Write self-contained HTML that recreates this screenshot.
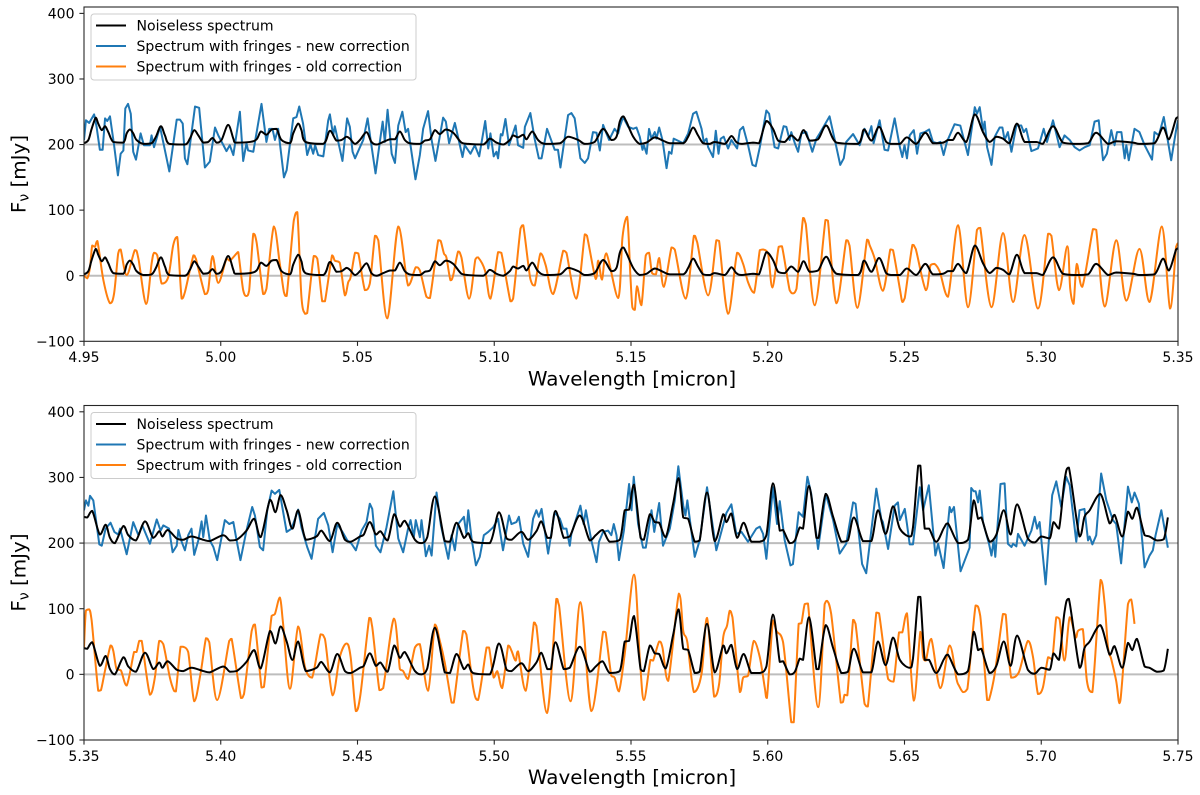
<!DOCTYPE html>
<html lang="en">
<head>
<meta charset="utf-8">
<title>Spectrum fringe correction comparison</title>
<style>
html,body{margin:0;padding:0;background:#fff;}
svg{display:block;font-family:"DejaVu Sans","Liberation Sans",sans-serif;}
</style>
</head>
<body>
<svg id="figure" width="1200" height="795" viewBox="0 0 1200 795" xmlns="http://www.w3.org/2000/svg">
<defs>
<clipPath id="clip-top"><rect x="84" y="7" width="1094" height="334"/></clipPath>
<clipPath id="clip-bottom"><rect x="84" y="405.5" width="1094" height="334.5"/></clipPath>
</defs>
<g id="panel-top">
<g id="marks-top" clip-path="url(#clip-top)"></g>
<g id="axes-top"></g>
<text x="632" y="385.5" text-anchor="middle" font-size="19.9" fill="#000">Wavelength [micron]</text>
<text transform="translate(25.5,174) rotate(-90)" text-anchor="middle" font-size="19.9" fill="#000">F<tspan font-size="14" dy="3">ν</tspan><tspan dy="-3"> [mJy]</tspan></text>
<g>
<rect x="91" y="14" width="325" height="66" rx="3" fill="#fff" fill-opacity="0.8" stroke="#ccc" stroke-width="1"/>
<line x1="96" x2="126" y1="25.5" y2="25.5" stroke="#000" stroke-width="2"/>
<text x="136.5" y="30.5" font-size="14.05" fill="#000">Noiseless spectrum</text>
<line x1="96" x2="126" y1="46" y2="46" stroke="#1f77b4" stroke-width="2"/>
<text x="136.5" y="51" font-size="14.05" fill="#000">Spectrum with fringes - new correction</text>
<line x1="96" x2="126" y1="66.5" y2="66.5" stroke="#ff7f0e" stroke-width="2"/>
<text x="136.5" y="71.5" font-size="14.05" fill="#000">Spectrum with fringes - old correction</text>
</g>
</g>
<g id="panel-bottom">
<g id="marks-bottom" clip-path="url(#clip-bottom)"></g>
<g id="axes-bottom"></g>
<text x="632" y="784" text-anchor="middle" font-size="19.9" fill="#000">Wavelength [micron]</text>
<text transform="translate(25.5,572.5) rotate(-90)" text-anchor="middle" font-size="19.9" fill="#000">F<tspan font-size="14" dy="3">ν</tspan><tspan dy="-3"> [mJy]</tspan></text>
<g>
<rect x="91" y="412.5" width="325" height="66" rx="3" fill="#fff" fill-opacity="0.8" stroke="#ccc" stroke-width="1"/>
<line x1="96" x2="126" y1="424" y2="424" stroke="#000" stroke-width="2"/>
<text x="136.5" y="429" font-size="14.05" fill="#000">Noiseless spectrum</text>
<line x1="96" x2="126" y1="444.5" y2="444.5" stroke="#1f77b4" stroke-width="2"/>
<text x="136.5" y="449.5" font-size="14.05" fill="#000">Spectrum with fringes - new correction</text>
<line x1="96" x2="126" y1="465" y2="465" stroke="#ff7f0e" stroke-width="2"/>
<text x="136.5" y="470" font-size="14.05" fill="#000">Spectrum with fringes - old correction</text>
</g>
</g>
</svg>
<script>
const topXTicks = ["4.95","5.00","5.05","5.10","5.15","5.20","5.25","5.30","5.35"];
const bottomXTicks = ["5.35","5.40","5.45","5.50","5.55","5.60","5.65","5.70","5.75"];
const yTicks = [400,300,200,100,0,-100];
const referenceLevels = [200,0];
const noiselessOffset = 200;

const topNoiselessWave = [4.9500,4.9516,4.9528,4.9543,4.9552,4.9565,4.9577,4.9589,4.9607,4.9644,4.9656,4.9668,4.9680,4.9692,4.9717,4.9747,4.9763,4.9781,4.9796,4.9812,4.9869,4.9887,4.9903,4.9918,4.9936,4.9954,4.9970,4.9985,5.0003,5.0027,5.0046,5.0054,5.0107,5.0131,5.0147,5.0167,5.0186,5.0204,5.0222,5.0253,5.0265,5.0283,5.0295,5.0310,5.0375,5.0399,5.0423,5.0442,5.0460,5.0472,5.0491,5.0509,5.0533,5.0551,5.0570,5.0594,5.0618,5.0637,5.0655,5.0673,5.0691,5.0728,5.0746,5.0765,5.0783,5.0801,5.0823,5.0850,5.0880,5.0905,5.0959,5.0984,5.1008,5.1033,5.1057,5.1069,5.1087,5.1106,5.1118,5.1139,5.1160,5.1185,5.1240,5.1270,5.1307,5.1331,5.1367,5.1398,5.1428,5.1447,5.1459,5.1471,5.1483,5.1508,5.1532,5.1557,5.1587,5.1617,5.1642,5.1691,5.1709,5.1727,5.1745,5.1764,5.1788,5.1806,5.1843,5.1867,5.1885,5.1904,5.1946,5.1968,5.1995,5.2019,5.2038,5.2062,5.2086,5.2111,5.2131,5.2153,5.2184,5.2214,5.2251,5.2330,5.2352,5.2379,5.2407,5.2433,5.2452,5.2483,5.2509,5.2543,5.2576,5.2604,5.2641,5.2659,5.2677,5.2696,5.2726,5.2757,5.2787,5.2811,5.2836,5.2860,5.2884,5.2911,5.2939,5.2982,5.3006,5.3043,5.3079,5.3128,5.3171,5.3201,5.3244,5.3274,5.3335,5.3359,5.3414,5.3445,5.3467,5.3493,5.3500];
const topNoiselessFlux = [2,7,24,41,32,22,28,19,4,3,17,23,17,7,1,2,12,28,14,1,0,9,22,14,3,4,10,3,7,30,9,3,4,8,20,15,23,24,7,2,17,32,22,4,1,21,6,7,12,9,1,7,19,4,0,4,8,8,20,7,2,1,6,8,22,16,23,18,3,1,0,9,3,0,7,14,11,15,8,20,7,1,2,12,7,1,4,24,7,12,35,43,35,12,1,3,11,6,2,2,12,26,14,2,1,4,1,13,4,1,3,2,36,24,6,4,14,6,22,6,8,29,3,1,23,6,27,4,1,1,11,1,18,2,3,7,7,18,4,46,19,4,12,9,2,32,4,4,1,28,3,1,2,18,1,5,3,1,2,26,8,40,42];

const topNewWave = [4.9500,4.9507,4.9519,4.9537,4.9546,4.9558,4.9568,4.9577,4.9585,4.9595,4.9610,4.9624,4.9634,4.9644,4.9651,4.9661,4.9671,4.9680,4.9690,4.9707,4.9719,4.9741,4.9747,4.9756,4.9778,4.9812,4.9839,4.9851,4.9861,4.9869,4.9878,4.9906,4.9921,4.9942,4.9960,4.9979,4.9991,5.0021,5.0033,5.0046,5.0070,5.0082,5.0094,5.0100,5.0119,5.0149,5.0167,5.0177,5.0189,5.0198,5.0210,5.0231,5.0241,5.0265,5.0277,5.0287,5.0301,5.0316,5.0328,5.0338,5.0345,5.0356,5.0375,5.0393,5.0399,5.0411,5.0417,5.0445,5.0462,5.0472,5.0482,5.0491,5.0509,5.0521,5.0537,5.0548,5.0566,5.0579,5.0592,5.0600,5.0610,5.0625,5.0637,5.0649,5.0664,5.0676,5.0685,5.0712,5.0728,5.0740,5.0758,5.0771,5.0785,5.0813,5.0823,5.0835,5.0856,5.0884,5.0892,5.0913,5.0929,5.0945,5.0967,5.0978,5.0986,5.0998,5.1008,5.1014,5.1024,5.1030,5.1041,5.1054,5.1078,5.1087,5.1106,5.1112,5.1132,5.1148,5.1163,5.1173,5.1193,5.1221,5.1233,5.1242,5.1270,5.1282,5.1294,5.1315,5.1331,5.1343,5.1361,5.1374,5.1386,5.1398,5.1410,5.1420,5.1440,5.1453,5.1459,5.1471,5.1490,5.1508,5.1520,5.1532,5.1542,5.1547,5.1557,5.1566,5.1575,5.1587,5.1593,5.1603,5.1615,5.1630,5.1639,5.1648,5.1656,5.1691,5.1709,5.1727,5.1739,5.1758,5.1766,5.1776,5.1782,5.1800,5.1810,5.1820,5.1828,5.1839,5.1855,5.1867,5.1888,5.1898,5.1910,5.1928,5.1944,5.1956,5.1971,5.1995,5.2005,5.2025,5.2038,5.2058,5.2068,5.2080,5.2086,5.2099,5.2111,5.2123,5.2141,5.2163,5.2178,5.2190,5.2226,5.2251,5.2265,5.2278,5.2287,5.2312,5.2336,5.2354,5.2367,5.2379,5.2387,5.2409,5.2427,5.2440,5.2464,5.2483,5.2492,5.2500,5.2509,5.2519,5.2534,5.2546,5.2558,5.2574,5.2590,5.2604,5.2619,5.2631,5.2643,5.2655,5.2683,5.2704,5.2732,5.2757,5.2765,5.2775,5.2787,5.2793,5.2802,5.2818,5.2830,5.2848,5.2858,5.2866,5.2878,5.2891,5.2909,5.2927,5.2936,5.2945,5.2964,5.2988,5.3009,5.3021,5.3043,5.3067,5.3085,5.3104,5.3122,5.3140,5.3159,5.3177,5.3195,5.3210,5.3226,5.3240,5.3256,5.3268,5.3277,5.3293,5.3305,5.3311,5.3320,5.3341,5.3359,5.3378,5.3405,5.3414,5.3430,5.3448,5.3475,5.3493,5.3500];
const topNewFlux = [207,237,233,246,227,192,192,240,236,243,199,153,186,191,255,262,247,189,177,217,199,199,214,196,227,159,238,238,232,179,170,258,256,165,174,226,214,190,199,184,250,175,202,191,189,262,204,224,224,207,224,150,161,240,242,258,232,184,200,186,199,184,182,237,246,214,228,175,240,227,189,179,196,207,240,207,156,196,235,204,253,186,172,229,250,219,224,147,184,224,251,207,175,241,235,202,233,181,199,186,199,182,236,194,217,182,189,179,216,214,239,199,229,199,195,227,248,208,179,179,224,192,192,165,245,248,240,179,172,179,219,218,191,230,217,207,224,217,227,242,227,224,226,212,192,199,186,224,209,219,209,226,207,164,189,186,209,202,217,247,250,224,204,209,196,181,221,186,209,212,194,207,194,222,227,199,169,167,196,252,247,196,194,228,227,207,219,202,189,217,219,189,209,217,243,196,169,179,204,216,199,224,212,228,202,237,192,191,240,196,181,199,179,214,222,186,217,219,223,204,202,204,184,204,231,229,184,257,247,257,222,235,196,169,212,226,226,207,219,189,229,229,219,224,190,194,224,204,237,196,214,207,196,191,196,199,235,237,176,186,222,199,219,219,179,199,176,224,219,199,177,219,214,242,176,222,237];

const topOldWave = [4.9500,4.9512,4.9522,4.9530,4.9540,4.9549,4.9571,4.9595,4.9610,4.9625,4.9634,4.9656,4.9686,4.9699,4.9727,4.9747,4.9756,4.9768,4.9784,4.9808,4.9826,4.9841,4.9857,4.9869,4.9900,4.9909,4.9942,4.9954,4.9970,4.9991,5.0021,5.0033,5.0058,5.0064,5.0082,5.0094,5.0104,5.0119,5.0131,5.0155,5.0167,5.0194,5.0216,5.0231,5.0241,5.0267,5.0280,5.0295,5.0308,5.0316,5.0340,5.0353,5.0371,5.0381,5.0407,5.0417,5.0435,5.0454,5.0466,5.0475,5.0491,5.0503,5.0527,5.0545,5.0564,5.0576,5.0609,5.0649,5.0685,5.0713,5.0728,5.0752,5.0765,5.0795,5.0804,5.0816,5.0825,5.0840,5.0850,5.0868,5.0880,5.0908,5.0931,5.0941,5.0966,5.0986,5.1014,5.1026,5.1059,5.1069,5.1096,5.1106,5.1132,5.1148,5.1169,5.1188,5.1215,5.1252,5.1264,5.1300,5.1331,5.1339,5.1371,5.1380,5.1394,5.1410,5.1453,5.1469,5.1486,5.1498,5.1505,5.1514,5.1522,5.1538,5.1554,5.1566,5.1577,5.1591,5.1603,5.1620,5.1648,5.1660,5.1700,5.1730,5.1742,5.1782,5.1812,5.1822,5.1855,5.1888,5.1910,5.1928,5.1950,5.1971,5.1983,5.2001,5.2017,5.2040,5.2052,5.2080,5.2092,5.2105,5.2129,5.2139,5.2172,5.2211,5.2220,5.2251,5.2287,5.2299,5.2328,5.2363,5.2373,5.2391,5.2421,5.2448,5.2458,5.2483,5.2492,5.2501,5.2529,5.2541,5.2578,5.2595,5.2610,5.2629,5.2659,5.2696,5.2732,5.2765,5.2777,5.2818,5.2860,5.2897,5.2939,5.2988,5.3025,5.3037,5.3065,5.3095,5.3106,5.3118,5.3130,5.3150,5.3189,5.3201,5.3232,5.3274,5.3311,5.3359,5.3396,5.3441,5.3471,5.3493,5.3500];
const topOldFlux = [1,-4,13,46,44,53,-7,-42,-27,34,40,1,39,26,-43,18,35,31,-12,-2,46,59,-35,-25,31,26,-28,-22,30,-11,26,23,34,36,-22,-31,-22,64,51,-28,-20,75,18,-25,-31,84,97,-32,-58,-57,30,26,-39,-39,31,23,20,-30,-10,-2,35,34,-22,-12,61,54,-65,75,-15,13,8,-32,-34,54,53,34,28,-7,1,37,28,-35,25,28,8,-35,36,35,-39,-35,72,77,-5,-15,34,16,-28,38,35,-35,63,61,-5,23,-6,34,-34,59,90,-2,-48,-52,-16,-45,31,35,4,2,27,-17,43,40,-35,61,51,-30,54,53,-58,35,18,-10,-26,39,40,34,-18,44,45,-22,-27,-20,88,79,-45,85,84,-42,54,46,-49,55,46,26,-23,40,39,-20,-40,-34,47,41,-22,16,18,6,-32,77,-48,70,73,-48,65,-40,62,-50,64,61,-22,45,-20,-43,18,-17,71,70,-47,54,-38,41,-40,75,-50,44,50];

const bottomNoiselessWave = [5.3500,5.3512,5.3530,5.3558,5.3579,5.3595,5.3613,5.3644,5.3662,5.3690,5.3723,5.3753,5.3775,5.3787,5.3806,5.3839,5.3863,5.3893,5.3936,5.3960,5.4009,5.4033,5.4058,5.4094,5.4122,5.4146,5.4180,5.4200,5.4219,5.4241,5.4262,5.4283,5.4311,5.4350,5.4368,5.4399,5.4426,5.4454,5.4475,5.4509,5.4523,5.4545,5.4567,5.4584,5.4610,5.4634,5.4655,5.4673,5.4710,5.4734,5.4755,5.4783,5.4819,5.4838,5.4862,5.4889,5.4905,5.4923,5.4984,5.5017,5.5045,5.5063,5.5099,5.5124,5.5154,5.5172,5.5194,5.5207,5.5224,5.5254,5.5276,5.5313,5.5349,5.5371,5.5396,5.5422,5.5459,5.5477,5.5493,5.5511,5.5535,5.5547,5.5569,5.5587,5.5603,5.5627,5.5654,5.5674,5.5691,5.5709,5.5733,5.5751,5.5778,5.5806,5.5837,5.5849,5.5867,5.5888,5.5912,5.5940,5.5971,5.5995,5.6019,5.6044,5.6056,5.6080,5.6099,5.6117,5.6129,5.6151,5.6178,5.6186,5.6212,5.6239,5.6269,5.6293,5.6315,5.6348,5.6379,5.6403,5.6431,5.6458,5.6483,5.6519,5.6531,5.6550,5.6558,5.6574,5.6590,5.6616,5.6644,5.6659,5.6696,5.6732,5.6753,5.6769,5.6781,5.6811,5.6836,5.6863,5.6888,5.6912,5.6951,5.6976,5.7000,5.7031,5.7045,5.7065,5.7085,5.7101,5.7140,5.7158,5.7177,5.7216,5.7250,5.7268,5.7296,5.7317,5.7333,5.7350,5.7378,5.7396,5.7423,5.7448,5.7463];
const bottomNoiselessFlux = [40,39,49,13,28,8,0,26,12,4,33,8,18,10,20,7,5,10,5,3,12,4,5,19,37,9,66,47,73,50,22,50,5,10,19,3,31,5,2,10,13,32,13,18,4,44,25,34,5,0,9,71,3,2,31,8,15,2,0,47,7,5,17,5,18,33,8,8,49,8,10,42,4,12,20,2,5,50,51,89,8,5,44,32,31,9,60,99,39,37,2,4,77,3,44,32,45,8,31,2,2,12,91,19,20,0,4,24,22,87,8,8,75,40,2,4,39,3,3,50,14,56,22,10,24,118,118,22,22,2,23,30,0,5,65,37,39,2,13,50,13,59,7,1,10,7,32,22,95,115,10,40,50,75,30,43,10,48,37,54,12,10,4,6,39];

const bottomNewWave = [5.3500,5.3507,5.3516,5.3522,5.3534,5.3556,5.3565,5.3579,5.3597,5.3611,5.3625,5.3632,5.3656,5.3680,5.3699,5.3713,5.3741,5.3766,5.3780,5.3790,5.3811,5.3824,5.3839,5.3845,5.3857,5.3869,5.3881,5.3893,5.3903,5.3918,5.3930,5.3936,5.3946,5.3960,5.3973,5.3987,5.4015,5.4031,5.4046,5.4058,5.4072,5.4094,5.4115,5.4125,5.4143,5.4155,5.4170,5.4186,5.4198,5.4214,5.4222,5.4241,5.4259,5.4283,5.4295,5.4316,5.4332,5.4356,5.4377,5.4393,5.4409,5.4426,5.4445,5.4463,5.4478,5.4494,5.4515,5.4533,5.4545,5.4554,5.4567,5.4584,5.4606,5.4631,5.4649,5.4667,5.4685,5.4694,5.4706,5.4713,5.4728,5.4734,5.4750,5.4762,5.4771,5.4789,5.4805,5.4832,5.4844,5.4856,5.4868,5.4889,5.4898,5.4905,5.4917,5.4933,5.4947,5.4962,5.4978,5.4996,5.5014,5.5032,5.5054,5.5063,5.5081,5.5090,5.5106,5.5124,5.5142,5.5154,5.5163,5.5173,5.5197,5.5221,5.5240,5.5252,5.5264,5.5276,5.5282,5.5315,5.5327,5.5335,5.5355,5.5374,5.5383,5.5398,5.5416,5.5428,5.5437,5.5447,5.5456,5.5474,5.5493,5.5502,5.5510,5.5526,5.5544,5.5554,5.5575,5.5585,5.5603,5.5617,5.5642,5.5660,5.5673,5.5691,5.5699,5.5706,5.5733,5.5751,5.5778,5.5812,5.5849,5.5867,5.5885,5.5904,5.5928,5.5958,5.5971,5.5983,5.5995,5.6019,5.6034,5.6044,5.6062,5.6083,5.6092,5.6113,5.6129,5.6145,5.6159,5.6184,5.6212,5.6239,5.6263,5.6287,5.6312,5.6321,5.6345,5.6360,5.6397,5.6415,5.6421,5.6440,5.6464,5.6476,5.6483,5.6501,5.6509,5.6519,5.6531,5.6556,5.6568,5.6589,5.6613,5.6623,5.6643,5.6665,5.6671,5.6681,5.6705,5.6738,5.6744,5.6753,5.6760,5.6769,5.6775,5.6787,5.6809,5.6818,5.6826,5.6832,5.6851,5.6866,5.6878,5.6891,5.6897,5.6909,5.6915,5.6939,5.6951,5.6964,5.6976,5.6985,5.6994,5.7016,5.7040,5.7055,5.7073,5.7091,5.7104,5.7128,5.7140,5.7158,5.7171,5.7177,5.7187,5.7201,5.7219,5.7238,5.7262,5.7274,5.7292,5.7317,5.7331,5.7341,5.7357,5.7378,5.7396,5.7408,5.7418,5.7439,5.7463];
const bottomNewFlux = [250,265,257,272,265,198,196,222,231,217,213,222,183,232,212,227,199,236,219,227,222,186,196,220,202,189,212,222,182,204,233,209,242,204,194,174,235,229,232,204,174,219,255,242,194,189,250,280,275,281,262,217,222,251,224,194,176,237,246,227,186,229,217,204,199,189,219,232,260,252,196,186,224,279,207,186,222,235,209,235,209,235,180,196,181,277,227,176,212,189,229,240,214,250,207,166,179,212,217,224,237,189,242,229,232,240,199,179,237,250,240,252,184,247,237,222,222,196,214,257,229,250,204,171,202,217,219,212,229,212,174,219,290,250,301,229,193,193,250,217,261,196,222,265,317,257,242,265,179,204,285,189,246,259,214,217,202,222,225,214,176,285,229,264,204,166,168,247,240,301,275,191,275,235,184,199,262,260,168,154,283,237,232,191,257,262,235,252,229,198,198,285,250,288,181,199,162,255,247,255,157,193,284,279,279,262,280,232,199,181,204,179,290,291,199,194,199,195,214,196,207,219,240,222,232,137,273,294,255,301,288,202,250,252,204,210,198,212,306,265,235,229,169,286,262,277,260,163,181,189,212,250,193];

const bottomOldWave = [5.3500,5.3507,5.3519,5.3528,5.3552,5.3562,5.3577,5.3597,5.3607,5.3619,5.3635,5.3656,5.3683,5.3692,5.3702,5.3711,5.3741,5.3759,5.3775,5.3790,5.3814,5.3829,5.3836,5.3853,5.3863,5.3881,5.3903,5.3926,5.3946,5.3958,5.3987,5.4031,5.4040,5.4074,5.4085,5.4113,5.4125,5.4149,5.4158,5.4186,5.4198,5.4216,5.4228,5.4253,5.4283,5.4308,5.4334,5.4365,5.4381,5.4409,5.4435,5.4460,5.4475,5.4494,5.4511,5.4543,5.4554,5.4580,5.4594,5.4633,5.4655,5.4667,5.4685,5.4710,5.4728,5.4758,5.4783,5.4801,5.4819,5.4844,5.4852,5.4886,5.4898,5.4923,5.4941,5.4972,5.4981,5.4998,5.5011,5.5029,5.5051,5.5063,5.5078,5.5087,5.5115,5.5145,5.5154,5.5193,5.5227,5.5237,5.5279,5.5315,5.5355,5.5398,5.5407,5.5428,5.5440,5.5456,5.5477,5.5511,5.5532,5.5547,5.5571,5.5581,5.5603,5.5615,5.5636,5.5675,5.5691,5.5706,5.5730,5.5758,5.5778,5.5804,5.5822,5.5837,5.5851,5.5861,5.5871,5.5898,5.5910,5.5928,5.5949,5.5971,5.5989,5.5997,5.6019,5.6032,5.6056,5.6086,5.6095,5.6113,5.6123,5.6135,5.6147,5.6184,5.6208,5.6217,5.6232,5.6267,5.6275,5.6281,5.6291,5.6312,5.6321,5.6354,5.6366,5.6397,5.6407,5.6440,5.6460,5.6480,5.6492,5.6509,5.6534,5.6558,5.6568,5.6578,5.6598,5.6631,5.6665,5.6690,5.6699,5.6714,5.6730,5.6760,5.6777,5.6802,5.6809,5.6830,5.6860,5.6870,5.6890,5.6918,5.6951,5.6970,5.6988,5.7006,5.7025,5.7040,5.7055,5.7067,5.7085,5.7104,5.7126,5.7134,5.7152,5.7167,5.7187,5.7217,5.7232,5.7244,5.7256,5.7274,5.7286,5.7296,5.7317,5.7329,5.7341];
const bottomOldFlux = [41,97,99,82,-25,-24,6,44,36,8,6,-17,34,34,51,51,-31,-5,51,46,-5,-25,-26,42,42,34,-41,1,55,49,-39,51,54,-36,-30,66,76,-20,-19,89,92,117,77,-22,73,11,-5,61,54,-32,26,47,26,-56,-30,86,72,-24,-21,85,8,5,-7,41,46,-25,76,51,18,-43,-43,66,61,-20,-39,41,41,-5,5,-21,44,36,21,35,-25,79,74,-59,115,105,-41,110,-56,65,64,-2,-5,-26,31,152,26,-39,22,21,50,41,-10,123,66,49,-27,1,86,-34,-15,56,74,97,87,-27,-5,-2,51,26,-20,-36,82,66,49,-73,-73,77,78,107,108,-50,107,112,92,-43,-42,-31,-32,83,77,-45,-49,94,93,-7,-11,64,64,93,-40,65,26,21,54,-21,44,-7,-17,-27,-22,105,89,-39,-39,1,92,91,-5,3,51,26,-30,-20,26,23,87,84,21,87,56,66,69,-10,-27,144,107,41,23,-10,-44,-10,107,114,77];

const NS = 'http://www.w3.org/2000/svg';
const xLeft = 84, xRight = 1178;

function makeY(y400, yMinus100) {
  return function (v) { return yMinus100 + (v + 100) * (y400 - yMinus100) / 500; };
}
function makeX(start, end) {
  return function (w) { return xLeft + (w - start) * (xRight - xLeft) / (end - start); };
}
function clamp(v, a, b) {
  return Math.max(Math.min(a, b), Math.min(Math.max(a, b), v));
}
function pathFor(waves, flux, offset, xScale, yScale, smooth) {
  const n = Math.min(waves.length, flux.length);
  const xs = [], ys = [];
  for (let i = 0; i < n; i++) {
    xs.push(xScale(waves[i]));
    ys.push(yScale(flux[i] + offset));
  }
  let d = 'M' + xs[0].toFixed(2) + ' ' + ys[0].toFixed(2);
  for (let i = 0; i < n - 1; i++) {
    if (!smooth) {
      d += 'L' + xs[i + 1].toFixed(2) + ' ' + ys[i + 1].toFixed(2);
      continue;
    }
    const p = Math.max(i - 1, 0), q = Math.min(i + 2, n - 1);
    const c1x = clamp(xs[i] + (xs[i + 1] - xs[p]) / 6, xs[i], xs[i + 1]);
    const c1y = clamp(ys[i] + (ys[i + 1] - ys[p]) / 6, ys[i], ys[i + 1]);
    const c2x = clamp(xs[i + 1] - (xs[q] - xs[i]) / 6, xs[i], xs[i + 1]);
    const c2y = clamp(ys[i + 1] - (ys[q] - ys[i]) / 6, ys[i], ys[i + 1]);
    d += 'C' + c1x.toFixed(2) + ' ' + c1y.toFixed(2) + ' ' + c2x.toFixed(2) + ' ' + c2y.toFixed(2) + ' ' + xs[i + 1].toFixed(2) + ' ' + ys[i + 1].toFixed(2);
  }
  return d;
}
function addSeries(parent, waves, flux, offset, color, xScale, yScale, name, smooth) {
  const el = document.createElementNS(NS, 'path');
  el.setAttribute('d', pathFor(waves, flux, offset, xScale, yScale, smooth));
  el.setAttribute('fill', 'none');
  el.setAttribute('stroke', color);
  el.setAttribute('stroke-width', '2');
  el.setAttribute('stroke-linejoin', 'round');
  
  
  parent.appendChild(el);
}
function drawPanel(cfg) {
  const marks = document.getElementById(cfg.marksId);
  const axes = document.getElementById(cfg.axesId);
  const x = makeX(cfg.xStart, cfg.xEnd);
  const y = makeY(cfg.y400, cfg.yBottom);

  referenceLevels.forEach(function (level) {
    const ref = document.createElementNS(NS, 'line');
    ref.setAttribute('x1', xLeft);
    ref.setAttribute('x2', xRight);
    ref.setAttribute('y1', y(level));
    ref.setAttribute('y2', y(level));
    ref.setAttribute('stroke', '#bdbdbd');
    ref.setAttribute('stroke-width', '2');
    
    
    marks.appendChild(ref);
  });

  addSeries(marks, cfg.newWave, cfg.newFlux, 0, '#1f77b4', x, y, cfg.prefix + '-new-correction-line', false);
  addSeries(marks, cfg.oldWave, cfg.oldFlux, 0, '#ff7f0e', x, y, cfg.prefix + '-old-correction-line', true);
  addSeries(marks, cfg.cleanWave, cfg.cleanFlux, noiselessOffset, '#000000', x, y, cfg.prefix + '-noiseless-offset-line', true);
  addSeries(marks, cfg.cleanWave, cfg.cleanFlux, 0, '#000000', x, y, cfg.prefix + '-noiseless-line', true);

  const frame = document.createElementNS(NS, 'rect');
  frame.setAttribute('x', xLeft);
  frame.setAttribute('y', cfg.yTop);
  frame.setAttribute('width', xRight - xLeft);
  frame.setAttribute('height', cfg.yBottom - cfg.yTop);
  frame.setAttribute('fill', 'none');
  frame.setAttribute('stroke', '#262626');
  frame.setAttribute('stroke-width', '1.1');
  
  
  axes.appendChild(frame);

  yTicks.forEach(function (t) {
    const py = y(t);
    const mark = document.createElementNS(NS, 'line');
    mark.setAttribute('x1', xLeft - 4.6);
    mark.setAttribute('x2', xLeft);
    mark.setAttribute('y1', py);
    mark.setAttribute('y2', py);
    mark.setAttribute('stroke', '#262626');
    mark.setAttribute('stroke-width', '1.1');
    
    
    axes.appendChild(mark);
    const label = document.createElementNS(NS, 'text');
    label.setAttribute('x', xLeft - 9.5);
    label.setAttribute('y', py + 5.1);
    label.setAttribute('text-anchor', 'end');
    label.setAttribute('font-size', '14');
    
    
    label.textContent = String(t).replace('-', '\u2212');
    axes.appendChild(label);
  });

  cfg.xTicks.forEach(function (t) {
    const px = x(parseFloat(t));
    const mark = document.createElementNS(NS, 'line');
    mark.setAttribute('x1', px);
    mark.setAttribute('x2', px);
    mark.setAttribute('y1', cfg.yBottom);
    mark.setAttribute('y2', cfg.yBottom + 4.6);
    mark.setAttribute('stroke', '#262626');
    mark.setAttribute('stroke-width', '1.1');
    
    
    axes.appendChild(mark);
    const label = document.createElementNS(NS, 'text');
    label.setAttribute('x', px);
    label.setAttribute('y', cfg.yBottom + 20.8);
    label.setAttribute('text-anchor', 'middle');
    label.setAttribute('font-size', '14');
    
    
    label.textContent = t;
    axes.appendChild(label);
  });
}

drawPanel({
  prefix: 'top', marksId: 'marks-top', axesId: 'axes-top',
  xStart: 4.95, xEnd: 5.35, yTop: 7, y400: 13.4, yBottom: 341.3, xTicks: topXTicks,
  newWave: topNewWave, newFlux: topNewFlux,
  oldWave: topOldWave, oldFlux: topOldFlux,
  cleanWave: topNoiselessWave, cleanFlux: topNoiselessFlux
});
drawPanel({
  prefix: 'bottom', marksId: 'marks-bottom', axesId: 'axes-bottom',
  xStart: 5.35, xEnd: 5.75, yTop: 405.5, y400: 411.8, yBottom: 740, xTicks: bottomXTicks,
  newWave: bottomNewWave, newFlux: bottomNewFlux,
  oldWave: bottomOldWave, oldFlux: bottomOldFlux,
  cleanWave: bottomNoiselessWave, cleanFlux: bottomNoiselessFlux
});
</script>
</body>
</html>
